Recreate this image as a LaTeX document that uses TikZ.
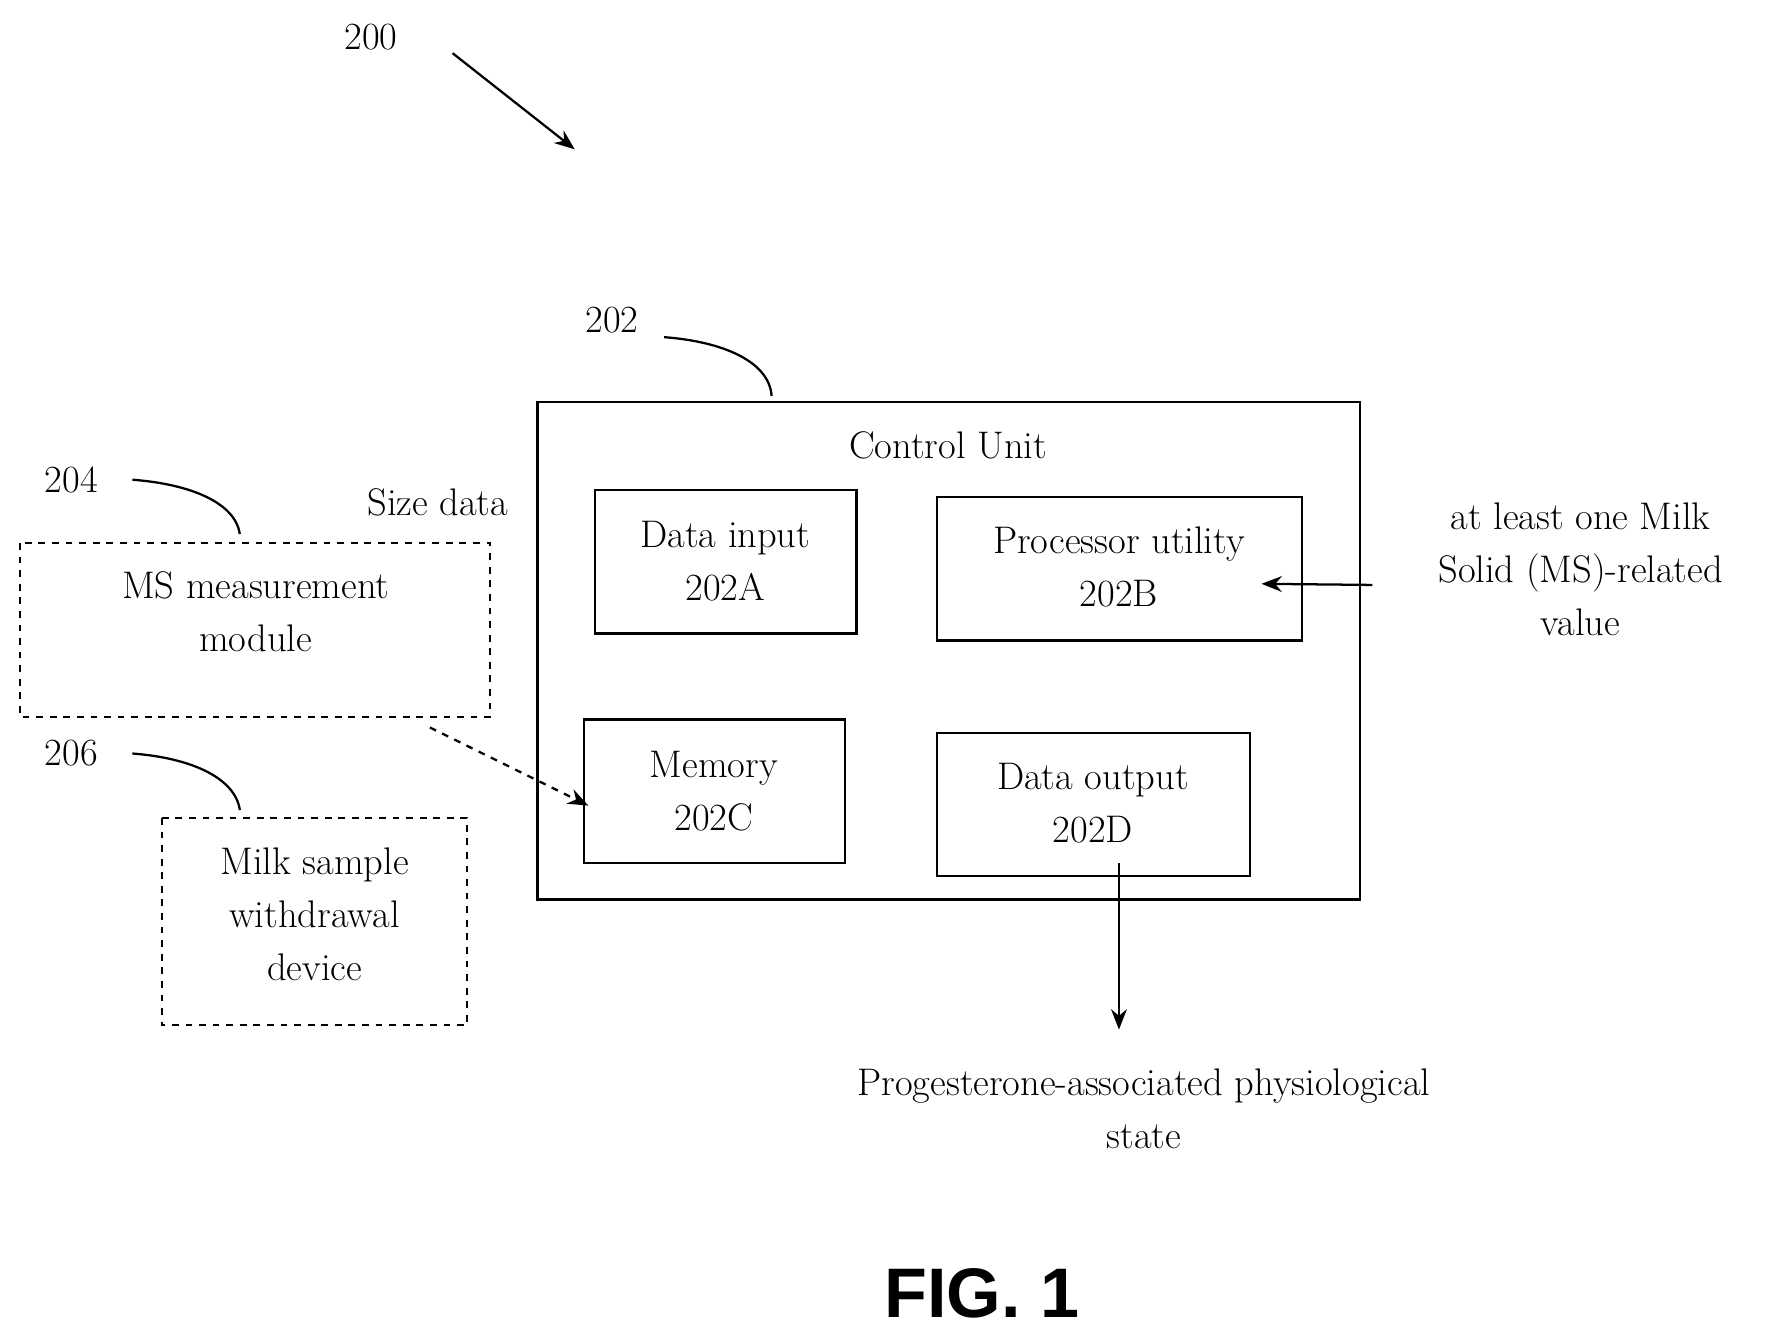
\documentclass[tikz,border=0pt]{standalone}
\usepackage{fontspec}
\newfontfamily\figfont{Liberation Sans}
\usetikzlibrary{arrows.meta}
\begin{document}
\begin{tikzpicture}[x=0.5pt,y=-0.5pt,
  every node/.style={font=\fontsize{17}{23.5}\selectfont, align=center, inner sep=0pt},
  box/.style={draw, line width=1pt},
  dbox/.style={draw, line width=1pt, dashed},
  arr/.style={line width=1pt, -{Stealth[length=9pt,width=7pt]}},
  lead/.style={line width=1pt}]
\useasboundingbox (0,0) rectangle (1560,1177);
\node (n200) at (328,33) {200};
\coordinate (a1) at (400,47); \coordinate (a2) at (508,132);
\draw[arr] (a1) -- (a2);
\node (n202) at (541,283) {202};
\draw[box] (475,355) rectangle (1202,795);
\coordinate (cu) at (682,350);
\draw[lead] (587,298) .. controls (640,302) and (680,320) .. (cu);
\node (cut) at (838,394) {Control Unit};
\draw[box] (526,433) rectangle (757,560); \node (a) at (641,496) {Data input\\202A};
\draw[box] (828,439) rectangle (1151,566); \node (b) at (989,501) {Processor utility\\202B};
\draw[box] (516,636) rectangle (747,763); \node (c) at (631,699) {Memory\\202C};
\draw[box] (828,648) rectangle (1105,774); \node (d) at (966,710) {Data output\\202D};
\node (ms) at (1397,503) {at least one Milk\\Solid (MS)-related\\value};
\coordinate (ms1) at (1213,517); \coordinate (ms2) at (1115,516);
\draw[arr] (ms1) -- (ms2);
\coordinate (d1) at (989,763); \coordinate (d2) at (989,910);
\draw[arr] (d1) -- (d2);
\node (prog) at (1011,980) {Progesterone-associated physiological\\state};
\draw[dbox] (18,480) rectangle (433,634);
\node (msm) at (226,541) {MS measurement\\module};
\node (n204) at (63,424) {204};
\draw[lead] (117,424) .. controls (170,428) and (208,445) .. (212,472);
\node (sd) at (387,444) {Size data};
\node (n206) at (63,666) {206};
\draw[lead] (117,666) .. controls (170,670) and (208,688) .. (212,716);
\draw[dbox] (143,723) rectangle (413,906);
\node (msw) at (278,808) {Milk sample\\withdrawal\\device};
\coordinate (e1) at (380,643); \coordinate (e2) at (520,712);
\draw[arr, dashed] (e1) -- (e2);
\node (fig) at (868,1143) {\figfont\bfseries\fontsize{31}{36}\selectfont FIG. 1};
\end{tikzpicture}
\end{document}
